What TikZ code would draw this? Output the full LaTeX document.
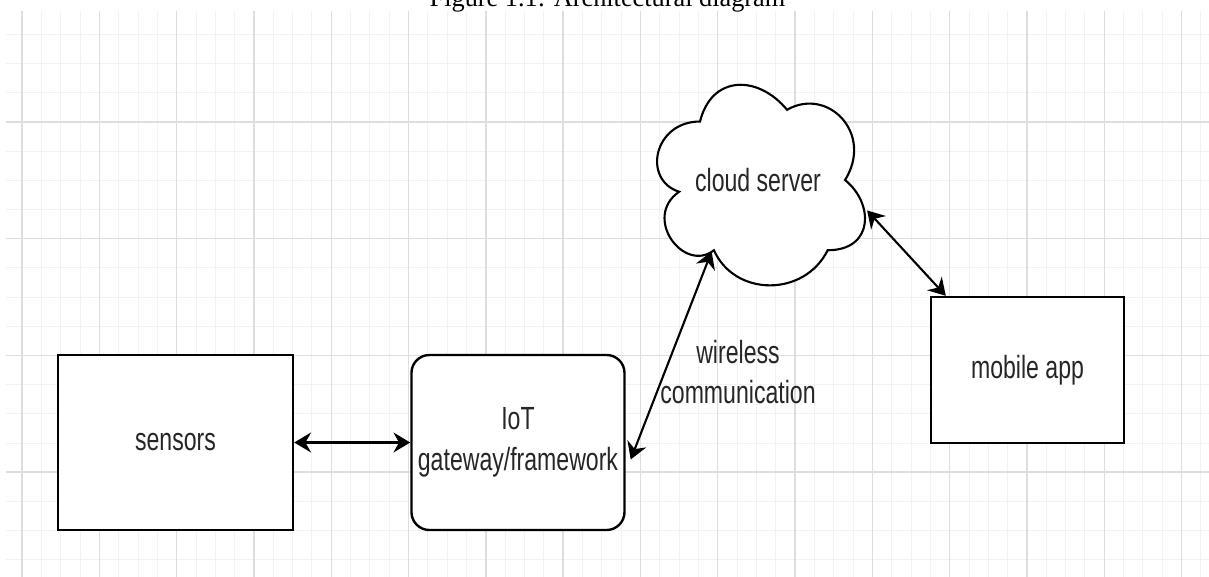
\documentclass[tikz,border=0pt]{standalone}
\usepackage{fontspec}
\setmainfont{Liberation Sans}[FakeStretch=0.72]
\newfontfamily\capfont{Liberation Serif}
\usepackage{tikz}
\usetikzlibrary{arrows.meta,
                positioning,
                calc}
\definecolor{gridmajor}{gray}{0.87}
\definecolor{gridminor}{gray}{0.95}
\definecolor{boxtext}{gray}{0.15}

\begin{document}
\begin{tikzpicture}
       [x=0.025cm,y=-0.025cm,
        block/.style={draw=black,fill=white,shape=rectangle,
                      line width=1.7pt,
                      minimum height=4.375cm,
                      text=boxtext,align=center,
                      font=\fontsize{22.8}{29}\selectfont},
        gateway/.style={block,rounded corners=0.45cm},
        label/.style={text=boxtext,align=center,
                      font=\fontsize{22.8}{29}\selectfont},
        link/.style={line width=1.5pt,
                     {Stealth[length=4.2mm,width=5mm,inset=1.4mm]}-{Stealth[length=4.2mm,width=5mm,inset=1.4mm]}}]
       \useasboundingbox[fill=white] (0,0) rectangle (1209,577);
       % drawing grid
       \begin{scope}
        \clip (6,11) rectangle (1209,577);
        \foreach \i in {-1,...,62}
          \draw[gridminor,line width=0.6pt] ({22+19.325*\i},11) -- ++(0,566);
        \foreach \j in {-4,...,16}
          \draw[gridminor,line width=0.6pt] (6,{122+29.175*\j}) -- ++(1203,0);
        \foreach \i in {0,...,15}
          \draw[gridmajor,line width=1pt] ({22+77.3*\i},11) -- ++(0,566);
        \foreach \j in {-1,...,4}
          \draw[gridmajor,line width=1pt] (6,{122+116.7*\j}) -- ++(1203,0);
       \end{scope}
       \node[font=\capfont\fontsize{18.7}{22}\selectfont,anchor=base] (caption) at (607.5,6.7)
            {Figure 1.1: Architectural diagram};

       \node [block,minimum width=5.875cm] (sensors) at (175.5,442.5) {sensors};
       \node [gateway,minimum width=5.325cm,right=2.9cm of sensors] (gw) {IoT\\gateway/framework};
       \node [block,minimum width=4.825cm,minimum height=3.65cm] (mobile) at (1027.5,370) {mobile app};

       % cloud outline
       \coordinate (cloudnw) at (642,63);
       \begin{scope}[shift={(cloudnw)},x=5.8cm,y=-5.85cm]
        \draw[line width=1.5pt,fill=white] (0.25,0.25)
             .. controls (0.05,0.25) and (0,0.5) .. (0.16,0.55)
             .. controls (0,0.66) and (0.18,0.9) .. (0.31,0.8)
             .. controls (0.4,1) and (0.7,1) .. (0.8,0.8)
             .. controls (1,0.8) and (1,0.6) .. (0.875,0.5)
             .. controls (1,0.3) and (0.8,0.1) .. (0.625,0.2)
             .. controls (0.5,0.05) and (0.3,0.05) .. (0.25,0.25) -- cycle;
        \coordinate (cloudlow) at (0.30,0.805);
        \coordinate (cloudright) at (0.97,0.63);
       \end{scope}
       \node [label] (cloud) at ($(cloudnw)+(116,117)$) {cloud server};

       \draw [link] (sensors) -- (gw);
       \draw [link] ([shift={(5,17)}]gw.east) -- (cloudlow);
       \draw [link] (cloudright) -- ([shift={(16,0)}]mobile.north west);
       \node [label] (wireless) at (738,372) {wireless\\communication};
\end{tikzpicture}
\end{document}
